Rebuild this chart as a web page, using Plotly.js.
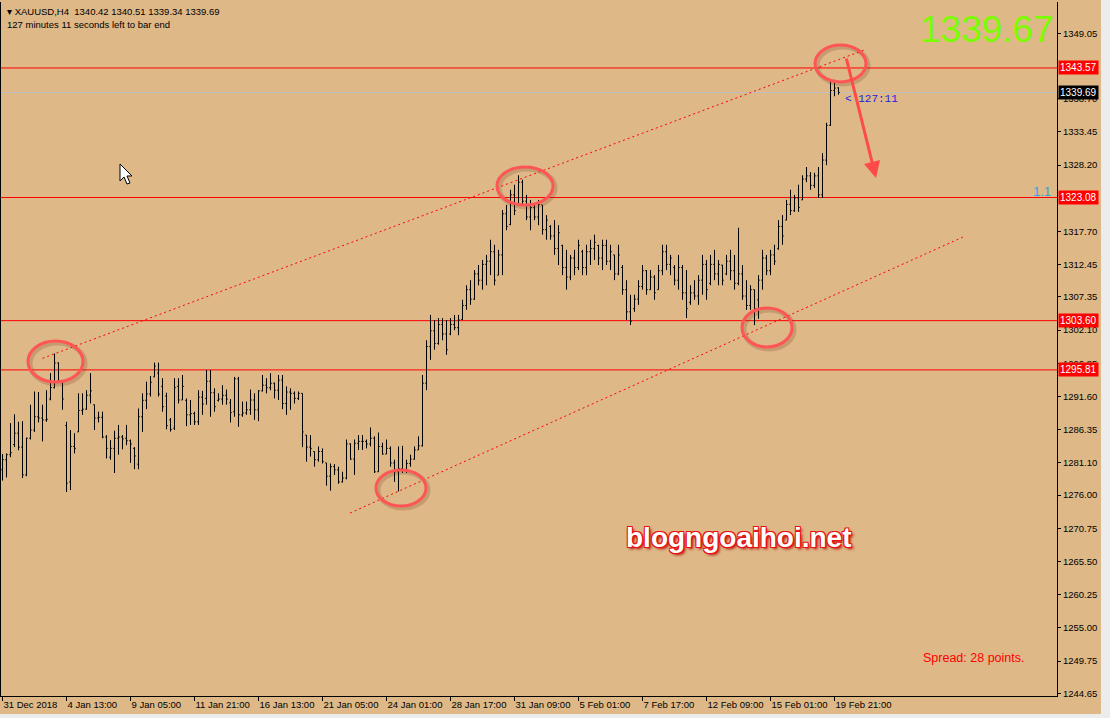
<!DOCTYPE html>
<html><head><meta charset="utf-8">
<script src="https://cdn.plot.ly/plotly-3.0.1.min.js"></script>
<style>html,body{margin:0;padding:0;background:#DEB887;overflow:hidden}#chart{width:1110px;height:718px}</style>
</head><body><div id="chart"></div>
<script>
// ---- Data (XAUUSD H4) ----
const barOpen = [
1280.0,1281.6,1282.4,1284.0,1285.8,1283.6,1279.2,1285.0,1286.3,1288.4,
1288.2,1287.9,1291.2,1293.0,1296.9,1294.1,1287.0,1278.1,1283.7,1286.0,
1289.4,1289.6,1291.8,1290.3,1288.2,1288.3,1285.2,1282.0,1283.4,1285.0,
1285.2,1285.0,1284.6,1283.4,1280.9,1288.4,1291.0,1292.0,1294.7,1295.3,
1293.2,1291.7,1287.9,1286.6,1293.2,1291.05,1291.0,1288.7,1288.9,1287.6,
1291.5,1291.3,1294.0,1292.2,1291.0,1291.2,1291.8,1290.6,1289.2,1294.4,
1288.7,1289.0,1289.5,1291.05,1289.5,1292.5,1293.4,1293.0,1293.7,1292.6,
1294.2,1290.5,1292.3,1292.1,1291.3,1292.1,1285.5,1283.6,1282.9,1281.6,
1282.9,1281.1,1279.0,1280.5,1280.0,1278.1,1278.7,1284.1,1281.7,1284.2,
1284.5,1284.5,1284.1,1285.0,1279.7,1283.7,1282.5,1283.4,1281.1,1279.7,
1280.2,1279.9,1281.0,1281.7,1283.15,1283.8,1293.7,1299.5,1302.0,1300.0,
1303.0,1301.5,1301.5,1303.0,1302.5,1303.8,1306.0,1308.5,1307.0,1311.0,
1310.0,1312.5,1313.0,1314.5,1310.8,1314.0,1320.5,1318.8,1323.5,1321.9,
1325.5,1322.5,1320.0,1321.5,1320.0,1321.9,1318.0,1318.5,1317.0,1315.0,
1315.5,1312.0,1310.5,1313.5,1312.0,1314.5,1312.0,1314.5,1315.0,1315.5,
1313.5,1315.5,1313.0,1314.0,1311.0,1312.0,1308.5,1305.0,1305.5,1307.0,
1309.0,1311.5,1308.5,1310.5,1308.5,1311.5,1314.5,1312.5,1312.0,1310.0,
1312.0,1308.0,1306.5,1308.0,1307.5,1310.0,1312.5,1309.5,1312.5,1311.0,
1312.4,1311.0,1313.0,1311.5,1309.5,1311.0,1307.5,1306.0,1308.5,1306.9,
1310.0,1313.5,1311.5,1314.0,1315.0,1318.5,1319.5,1322.0,1321.0,1323.0,
1322.7,1326.0,1326.5,1325.0,1326.5,1323.5,1329.0,1334.5,1340.0,1340.42];
const barHigh = [
1282.5,1282.6,1287.4,1288.8,1287.6,1287.7,1285.1,1290.3,1292.4,1292.3,
1290.3,1292.6,1295.3,1298.4,1297.0,1294.2,1287.6,1286.3,1285.8,1292.1,
1292.1,1292.6,1295.3,1290.3,1289.2,1289.2,1285.5,1284.7,1286.2,1287.1,
1285.5,1287.1,1284.8,1283.6,1289.7,1292.1,1293.95,1294.85,1296.96,1296.96,
1294.5,1292.2,1288.2,1294.5,1294.5,1295.0,1291.3,1291.05,1289.2,1292.6,
1292.5,1295.8,1295.8,1292.9,1292.1,1293.4,1292.7,1291.2,1294.7,1294.7,
1290.8,1290.8,1292.7,1292.1,1292.6,1295.0,1294.5,1295.3,1293.8,1295.0,
1295.0,1293.2,1292.9,1292.4,1292.4,1292.1,1285.5,1285.5,1282.9,1283.7,
1283.4,1281.1,1281.0,1280.9,1280.5,1279.7,1284.8,1284.2,1284.8,1285.5,
1285.5,1284.8,1286.7,1285.3,1285.9,1284.3,1284.8,1283.7,1281.6,1283.7,
1283.8,1281.6,1282.4,1283.7,1285.3,1295.0,1300.5,1304.5,1303.7,1304.0,
1304.0,1303.7,1304.0,1304.5,1304.5,1306.9,1309.2,1310.0,1311.6,1312.4,
1313.2,1314.0,1316.4,1315.6,1314.8,1321.1,1321.9,1324.3,1325.1,1326.6,
1325.9,1323.5,1322.7,1321.9,1322.7,1321.9,1320.3,1318.7,1319.5,1318.7,
1315.6,1314.8,1314.0,1314.8,1316.4,1314.8,1315.6,1316.4,1317.2,1315.6,
1316.4,1316.4,1315.6,1314.0,1315.6,1312.4,1310.0,1307.7,1307.7,1310.0,
1312.4,1311.6,1311.6,1310.8,1312.4,1315.6,1315.6,1314.0,1312.4,1314.0,
1312.4,1311.6,1309.2,1310.0,1310.8,1314.0,1313.2,1314.0,1314.8,1313.2,
1312.4,1314.0,1314.8,1314.0,1318.3,1312.4,1310.0,1309.2,1308.5,1310.8,
1314.8,1314.0,1314.8,1315.6,1319.5,1320.3,1322.7,1324.3,1323.5,1325.1,
1326.6,1327.9,1327.1,1327.0,1327.9,1330.1,1334.9,1341.7,1341.7,1340.51];
const barLow = [
1278.3,1278.8,1282.0,1283.6,1283.1,1278.7,1279.0,1284.8,1286.0,1287.5,
1284.5,1287.6,1291.0,1292.9,1294.0,1289.5,1276.5,1276.8,1282.6,1286.0,
1288.7,1289.5,1290.5,1286.3,1287.5,1285.0,1281.8,1281.6,1279.5,1282.4,
1283.25,1283.9,1281.1,1280.1,1280.1,1286.0,1289.6,1291.6,1294.7,1291.6,
1289.2,1286.4,1286.05,1286.3,1290.5,1291.05,1286.9,1287.1,1287.1,1287.1,
1288.7,1290.3,1288.4,1289.2,1290.8,1290.3,1290.3,1287.5,1288.4,1286.8,
1288.4,1288.7,1288.7,1287.9,1287.7,1292.4,1292.1,1292.6,1291.3,1291.05,
1289.6,1288.7,1289.5,1290.5,1291.05,1283.6,1281.3,1282.1,1280.5,1281.3,
1281.0,1277.5,1276.7,1279.2,1277.8,1278.0,1278.5,1281.6,1279.2,1283.15,
1283.15,1283.4,1283.7,1279.5,1279.7,1282.4,1282.5,1280.5,1278.1,1276.6,
1279.5,1279.5,1280.5,1281.6,1283.15,1283.7,1292.6,1297.4,1299.0,1299.8,
1300.5,1298.2,1301.3,1302.1,1301.3,1303.7,1305.3,1306.1,1306.9,1309.2,
1308.5,1309.2,1310.8,1309.2,1310.8,1310.8,1317.9,1318.7,1320.3,1321.9,
1321.9,1319.5,1317.9,1319.5,1318.7,1317.2,1316.4,1316.4,1314.0,1312.4,
1310.8,1308.5,1310.0,1310.8,1311.6,1310.8,1310.8,1312.4,1313.2,1312.4,
1311.6,1312.4,1311.6,1310.0,1310.8,1307.7,1303.7,1302.9,1305.0,1306.1,
1308.5,1307.7,1308.5,1306.9,1308.5,1310.8,1311.6,1310.8,1309.2,1308.5,
1306.9,1304.0,1306.1,1306.9,1306.1,1307.7,1306.9,1309.2,1310.0,1309.2,
1309.2,1310.8,1310.0,1308.5,1309.2,1306.9,1305.3,1305.3,1302.9,1303.9,
1308.5,1310.8,1310.8,1312.4,1314.8,1315.6,1319.5,1320.3,1320.8,1320.8,
1322.7,1325.5,1324.3,1324.6,1323.0,1323.0,1328.2,1334.4,1339.1,1339.34];
const barClose = [
1281.6,1282.4,1282.7,1285.8,1283.6,1279.2,1285.0,1286.3,1288.4,1288.2,
1287.9,1288.0,1293.0,1296.9,1294.1,1291.2,1277.9,1283.7,1283.4,1289.4,
1289.6,1291.8,1292.5,1288.2,1288.3,1285.2,1283.4,1283.4,1285.0,1285.2,
1284.9,1284.6,1284.1,1282.2,1288.4,1291.0,1292.0,1293.85,1296.4,1292.0,
1290.0,1287.0,1286.4,1293.0,1291.05,1293.2,1288.7,1288.9,1287.6,1291.5,
1290.4,1294.0,1292.2,1290.0,1291.2,1291.8,1291.2,1289.05,1294.4,1288.7,
1289.0,1289.5,1291.05,1289.5,1292.5,1293.4,1293.0,1293.7,1292.6,1294.2,
1290.5,1292.3,1292.1,1291.3,1292.1,1286.0,1283.6,1283.4,1281.6,1282.9,
1281.3,1279.0,1280.5,1280.0,1278.1,1278.7,1284.1,1281.7,1284.2,1284.5,
1284.5,1284.1,1285.0,1279.7,1283.7,1282.5,1283.4,1281.1,1279.7,1280.2,
1279.9,1281.0,1281.7,1283.15,1283.8,1293.7,1299.5,1302.0,1300.0,1303.0,
1301.5,1299.0,1303.0,1302.5,1303.7,1306.0,1308.5,1307.0,1311.0,1310.0,
1312.5,1313.0,1314.5,1310.0,1314.0,1320.5,1318.5,1323.5,1321.0,1325.5,
1322.5,1320.0,1321.5,1320.0,1322.0,1318.0,1319.5,1317.0,1315.0,1317.5,
1312.0,1310.5,1313.5,1312.0,1315.5,1312.0,1314.5,1315.0,1316.0,1313.5,
1315.5,1313.0,1314.5,1311.0,1314.0,1308.5,1305.0,1303.5,1307.0,1309.0,
1311.5,1308.5,1310.5,1308.0,1311.5,1314.5,1312.5,1313.5,1310.0,1312.0,
1308.0,1305.5,1308.0,1307.5,1310.0,1312.5,1308.5,1312.5,1311.0,1312.5,
1310.0,1313.0,1311.5,1309.5,1311.0,1307.5,1306.0,1308.5,1305.5,1310.0,
1313.5,1311.5,1314.0,1313.0,1318.5,1317.0,1322.0,1321.0,1323.0,1321.5,
1326.0,1326.5,1325.0,1326.5,1323.5,1329.0,1334.5,1340.0,1340.4,1339.69];

const dateTickBars = [0,16,32,48,64,80,96,112,128,144,160,176,192,208];
const dateTickLabels = ['31 Dec 2018','4 Jan 13:00','9 Jan 05:00','11 Jan 21:00','16 Jan 13:00',
  '21 Jan 05:00','24 Jan 01:00','28 Jan 17:00','31 Jan 09:00','5 Feb 01:00','7 Feb 17:00',
  '12 Feb 09:00','15 Feb 01:00','19 Feb 21:00'];
const priceTicks = [1349.05,1338.70,1333.45,1328.20,1317.70,1312.45,1307.35,1302.10,1296.85,
  1291.60,1286.35,1281.10,1276.00,1270.75,1265.50,1260.25,1255.00,1249.75,1244.65];
const redLevels = [1343.57,1323.08,1303.60,1295.81];
const bidPrice = 1339.69;
const askText = '1339.67';
const upperChannelX = [10.0,215.9], upperChannelY = [1297.64,1346.52];
const lowerChannelX = [86.9,240.7], lowerChannelY = [1273.17,1316.99];
const symbolName = 'XAUUSD,H4';
const timerText = '127 minutes 11 seconds left to bar end';
const countdown = '< 127:11';
const spreadText = 'Spread: 28 points.';
const watermark = 'blogngoaihoi.net';

// ---- Layout helpers (pixel -> paper) ----
const W=1110, H=718, ML=1, MR=53, MT=2, MB=22;
const PW=W-ML-MR, PH=H-MT-MB;
const pX = px => (px-ML)/PW;
const pY = py => 1-(py-MT)/PH;
const barX = barOpen.map((_,i)=>i);
const last = barOpen.length-1;
const f2 = v => v.toFixed(2);
const FONT = 'Liberation Sans, Arial, sans-serif';

const trace = {
  type:'ohlc', x:barX, open:barOpen, high:barHigh, low:barLow, close:barClose,
  increasing:{line:{color:'#000000',width:1}}, decreasing:{line:{color:'#000000',width:1}},
  tickwidth:0.32, hoverinfo:'skip', showlegend:false
};

const shapes = [];
redLevels.forEach(v=>shapes.push({type:'line',xref:'paper',x0:0,x1:1,yref:'y',y0:v,y1:v,
  line:{color:'#FF0000',width:1},layer:'below'}));
shapes.push({type:'line',xref:'paper',x0:0,x1:1,yref:'y',y0:bidPrice,y1:bidPrice,
  line:{color:'#C0C0C0',width:1},layer:'below'});
shapes.push({type:'line',xref:'x',yref:'y',x0:upperChannelX[0],x1:upperChannelX[1],y0:upperChannelY[0],y1:upperChannelY[1],
  line:{color:'#FF0000',width:1,dash:'2px,3px'}});
shapes.push({type:'line',xref:'x',yref:'y',x0:lowerChannelX[0],x1:lowerChannelX[1],y0:lowerChannelY[0],y1:lowerChannelY[1],
  line:{color:'#FF0000',width:1,dash:'2px,3px'}});
const ellipses = [[28,341,83,382],[497,167,553,205],[376,470,426,506],[742,308,792,347],[815,45,866,82]];
ellipses.forEach(e=>{
  shapes.push({type:'circle',xref:'paper',yref:'paper',x0:pX(e[0]+2),x1:pX(e[2]+2),y0:pY(e[3]+2),y1:pY(e[1]+2),
    line:{color:'rgba(110,60,30,0.22)',width:5}});
  shapes.push({type:'circle',xref:'paper',yref:'paper',x0:pX(e[0]),x1:pX(e[2]),y0:pY(e[3]),y1:pY(e[1]),
    line:{color:'#FF5555',width:3}});
});
const cur = [[120,164],[120,181],[124,177],[127,184],[130,183],[127,176],[132,176]];
shapes.push({type:'path',xref:'paper',yref:'paper',
  path:'M'+cur.map(p=>pX(p[0]).toFixed(5)+','+pY(p[1]).toFixed(5)).join(' L')+' Z',
  fillcolor:'#FFFFFF',line:{color:'#000000',width:1}});
shapes.push({type:'rect',xref:'paper',yref:'paper',x0:pX(1101),x1:pX(1111),y0:pY(719),y1:pY(-1),
  fillcolor:'#ECECEC',line:{width:0}});
shapes.push({type:'rect',xref:'paper',yref:'paper',x0:pX(-1),x1:pX(1111),y0:pY(719),y1:pY(714),
  fillcolor:'#ECECEC',line:{width:0}});

const annotations = [];
const levelLabel = (v,bg) => ({xref:'paper',x:1,xshift:1,xanchor:'left',yref:'y',y:v,yanchor:'middle',
  text:f2(v),showarrow:false,bgcolor:bg,borderpad:1,font:{family:FONT,size:10,color:'#FFFFFF'}});
redLevels.forEach(v=>annotations.push(levelLabel(v,'#FF0000')));
annotations.push(levelLabel(bidPrice,'#000000'));
annotations.push({xref:'paper',yref:'paper',x:pX(5),y:pY(11),xanchor:'left',yanchor:'middle',showarrow:false,
  text:'▾ '+symbolName+'  '+[barOpen[last],barHigh[last],barLow[last],barClose[last]].map(f2).join(' '),
  font:{family:FONT,size:9.5,color:'#000000'}});
annotations.push({xref:'paper',yref:'paper',x:pX(5),y:pY(24),xanchor:'left',yanchor:'middle',showarrow:false,
  text:timerText,font:{family:FONT,size:9.5,color:'#000000'}});
annotations.push({xref:'paper',yref:'paper',x:pX(1056),y:pY(29),xanchor:'right',yanchor:'middle',showarrow:false,
  text:askText,font:{family:FONT,size:37,color:'#7CFC00'}});
annotations.push({xref:'paper',yref:'paper',x:pX(1042),y:pY(192),xanchor:'center',yanchor:'middle',showarrow:false,
  text:'1.1',font:{family:FONT,size:13,color:'#2AA6E6'}});
annotations.push({xref:'x',yref:'y',x:last+1.2,y:1338.66,xanchor:'left',yanchor:'middle',showarrow:false,
  text:countdown,font:{family:'Liberation Mono, Courier New, monospace',size:11,color:'#1A1AE6'}});
annotations.push({xref:'paper',yref:'paper',x:pX(921),y:pY(658),xanchor:'left',yanchor:'middle',showarrow:false,
  text:spreadText,font:{family:FONT,size:12.5,color:'#FF0000'}});
annotations.push({xref:'paper',yref:'paper',x:pX(739),y:pY(537),xanchor:'center',yanchor:'middle',showarrow:false,
  text:watermark,font:{family:FONT,size:28,weight:'bold',color:'#FFFFFF',
  shadow:'1px 1px 0 #E81010, -1px -1px 0 #E81010, 1px -1px 0 #E81010, -1px 1px 0 #E81010, 2px 2px 3px #B00000'}});
annotations.push({xref:'paper',yref:'paper',x:pX(876),y:pY(178),ax:-30,ay:-121,showarrow:true,text:'',
  arrowhead:2,arrowsize:1.1,arrowwidth:3,arrowcolor:'#FF4A4A'});

const layout = {
  width:W,height:H,margin:{l:ML,r:MR,t:MT,b:MB,pad:0},
  paper_bgcolor:'#DEB887',plot_bgcolor:'#DEB887',showlegend:false,dragmode:false,
  xaxis:{type:'linear',range:[-0.375,-0.375+PW/4],tickmode:'array',tickvals:dateTickBars,ticktext:dateTickLabels,
    tickangle:0,ticks:'outside',ticklen:4,tickcolor:'#000',tickwidth:1,showline:true,linecolor:'#000',linewidth:1,
    showgrid:false,zeroline:false,ticklabelposition:'outside right',automargin:false,
    tickfont:{family:FONT,size:9.5,color:'#000'},rangeslider:{visible:false},fixedrange:true},
  yaxis:{side:'right',range:[1354.32-696/6.322,1354.32-2/6.322],tickmode:'array',tickvals:priceTicks,
    ticktext:priceTicks.map(f2),ticks:'outside',ticklen:3,tickcolor:'#000',tickwidth:1,showline:true,mirror:true,
    linecolor:'#000',linewidth:1,showgrid:false,zeroline:false,automargin:false,
    tickfont:{family:FONT,size:9.5,color:'#000'},fixedrange:true},
  shapes:shapes,annotations:annotations
};
Plotly.newPlot('chart',[trace],layout,{staticPlot:true,displayModeBar:false});
</script></body></html>
